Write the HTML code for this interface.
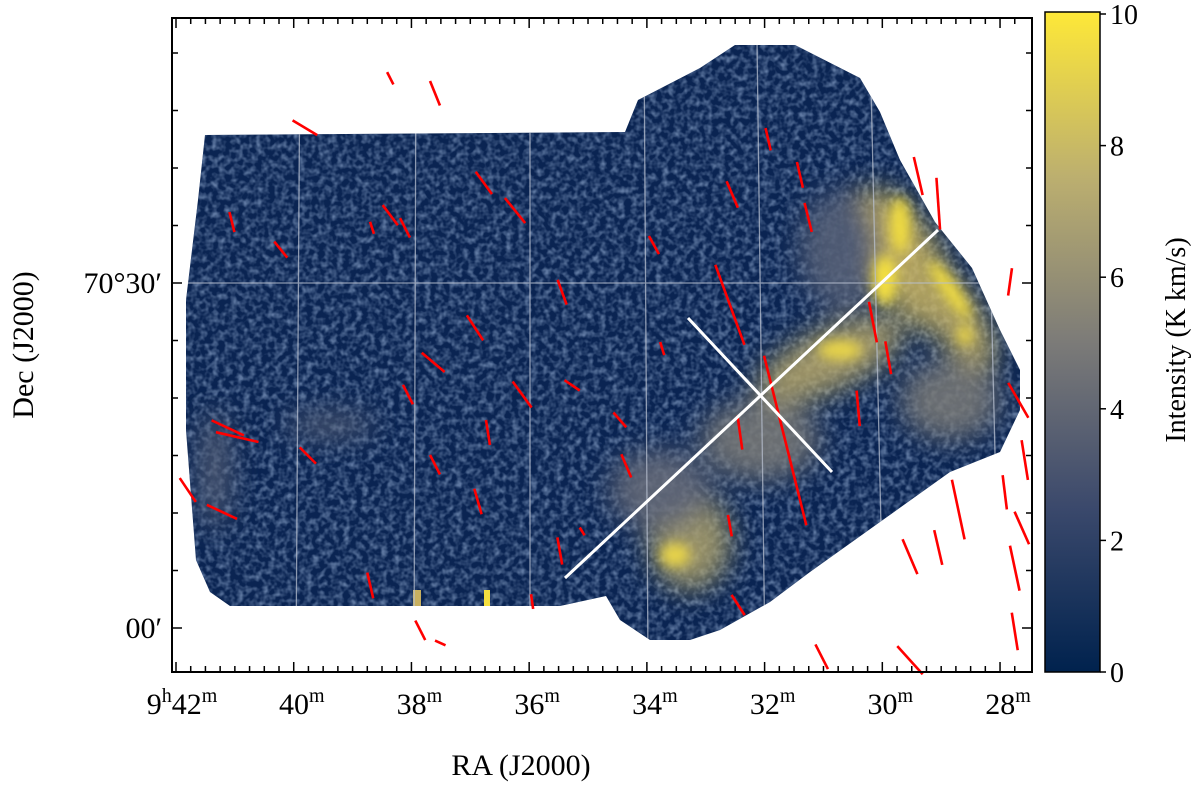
<!DOCTYPE html>
<html><head><meta charset="utf-8">
<style>
html,body{margin:0;padding:0;background:#fff;}
svg text{font-family:"Liberation Serif",serif;fill:#000;}
</style></head>
<body>
<svg id="chart" width="1200" height="789" viewBox="0 0 1200 789" xmlns="http://www.w3.org/2000/svg">
<defs>
<clipPath id="mapclip"><polygon id="mapPoly" points="205,135 625,132 638,100 700,68 735,45 795,45 860,78 880,112 900,160 935,222 972,268 1000,330 1020,370 1020,410 1000,452 950,472 880,522 810,572 770,602 720,630 690,640 650,640 620,620 606,596 560,606 230,606 210,592 196,560 186,430 186,300 198,200"/></clipPath>
<filter id="noise" x="0" y="0" width="100%" height="100%">
<feTurbulence type="fractalNoise" baseFrequency="0.16" numOctaves="2" seed="4"/>
<feColorMatrix type="matrix" values="0 0 0 0 0.2  0 0 0 0 0.3  0 0 0 0 0.5  0 0 0 -2.2 1.35"/>
</filter>
<filter id="blur"><feGaussianBlur stdDeviation="14"/></filter>
<filter id="blur2"><feGaussianBlur stdDeviation="6"/></filter>
<linearGradient id="cmap" x1="0" y1="1" x2="0" y2="0">
<stop offset="0" stop-color="#00224e"/><stop offset="0.25" stop-color="#3b496c"/>
<stop offset="0.5" stop-color="#7c7b78"/><stop offset="0.75" stop-color="#bcaf6f"/>
<stop offset="1" stop-color="#fee838"/></linearGradient>
</defs>
<g id="map" clip-path="url(#mapclip)">
<rect x="170" y="30" width="870" height="630" fill="#0a2452"/>
<rect x="170" y="30" width="870" height="630" fill="#3b5a8c" filter="url(#noise)" opacity="0.75"/>
<g filter="url(#blur)" opacity="0.85">
<ellipse cx="905" cy="260" rx="35" ry="80" fill="#d8c060" transform="rotate(-30 905 260)"/>
<ellipse cx="950" cy="310" rx="25" ry="70" fill="#c8b465" transform="rotate(-35 950 310)"/>
<ellipse cx="830" cy="360" rx="80" ry="30" fill="#b8a86a" transform="rotate(-25 830 360)"/>
<ellipse cx="950" cy="400" rx="50" ry="40" fill="#7c7b78"/>
<ellipse cx="760" cy="440" rx="60" ry="40" fill="#7c7b78"/>
<ellipse cx="690" cy="540" rx="40" ry="50" fill="#b0a46c"/>
<ellipse cx="660" cy="490" rx="50" ry="40" fill="#6a6e7a"/>
<ellipse cx="840" cy="250" rx="40" ry="60" fill="#5a6478"/>
<ellipse cx="330" cy="425" rx="45" ry="12" fill="#5a6478"/>
<ellipse cx="215" cy="470" rx="15" ry="60" fill="#5a6478"/>
</g>
<g filter="url(#blur2)">
<ellipse cx="885" cy="280" rx="12" ry="25" fill="#f5e040"/>
<ellipse cx="900" cy="225" rx="10" ry="28" fill="#f0dc40"/>
<ellipse cx="950" cy="290" rx="8" ry="35" fill="#f0dc40" transform="rotate(-35 950 290)"/>
<ellipse cx="840" cy="350" rx="22" ry="10" fill="#e8d448"/>
<ellipse cx="675" cy="555" rx="15" ry="12" fill="#e8d448"/>
<ellipse cx="965" cy="335" rx="8" ry="10" fill="#e8d448"/>
</g>
<rect x="413" y="590" width="8" height="16" fill="#c8b060"/>
<rect x="484" y="590" width="6" height="16" fill="#f5e040"/>
<g id="gridlines" stroke="#b8c0d0" stroke-width="1.3" opacity="0.75" fill="none">
<line x1="176" y1="283" x2="1030" y2="283"/>
<line x1="300" y1="40" x2="296" y2="660"/>
<line x1="416" y1="40" x2="414" y2="660"/>
<line x1="530" y1="40" x2="530" y2="660"/>
<line x1="644" y1="40" x2="648" y2="660"/>
<line x1="757" y1="40" x2="765" y2="660"/>
<line x1="870" y1="40" x2="884" y2="660"/>
<line x1="985" y1="40" x2="1000" y2="660"/>
</g>
</g>
<g id="vectors"></g>
<g id="cross" stroke="#fff" stroke-width="3">
<line x1="565" y1="578" x2="938" y2="230"/>
<line x1="688" y1="318" x2="832" y2="472"/>
</g>
<rect x="172" y="18" width="860" height="654" fill="none" stroke="#000" stroke-width="2"/>
<g id="ticks" stroke="#000" stroke-width="1.5"></g>
<g id="labels"></g>
<text x="521" y="775" font-size="30" text-anchor="middle">RA (J2000)</text>
<text transform="translate(33,345) rotate(-90)" font-size="30" text-anchor="middle">Dec (J2000)</text>
<rect x="1045" y="12" width="55" height="660" fill="url(#cmap)" stroke="#000" stroke-width="1.5"/>
<g id="cbticks"></g>
<text transform="translate(1185,340) rotate(-90)" font-size="28" text-anchor="middle">Intensity (K km/s)</text>
</svg>
<script>
const vecRA  = [38.36,37.60,39.81,41.05,40.22,38.67,38.36,38.11,36.77,36.24,35.44,33.88,32.55,31.94,31.40,31.26,32.59,31.65,29.39,29.05,30.16,29.90,30.41,27.83,27.69,27.58,27.92,28.71,29.05,29.53,27.63,27.75,27.75,29.53,31.03,32.45,32.59,32.42,33.74,35.48,37.85,37.51,38.70,36.87,36.70,37.60,38.06,37.63,36.92,36.12,35.27,34.46,34.35,39.76,41.12,40.96,41.80,41.22,35.10,35.95];
const vecDec = [47.8,46.5,43.5,35.3,32.9,34.8,35.9,34.8,38.7,36.3,29.2,33.3,37.7,42.5,39.4,35.7,28.1,16.3,39.3,36.9,26.6,23.5,19.1,30.1,19.8,14.6,11.8,10.3,7.0,6.2,8.7,5.2,-0.3,-2.8,-2.5,2.0,8.9,17.0,24.3,6.7,-0.2,-1.3,3.7,11.0,17.0,14.2,20.3,23.1,26.1,20.3,21.1,18.1,14.1,15.0,17.4,16.6,12.0,10.1,8.4,2.3];
const vecPA  = [-27,-22,-59,-14,-39,-18,-37,-27,-36,-39,-20,-29,-23,-13,-13,-14,-20,-14,-13,-4,-11,-10,-5,8,-30,-9,-7,-12,-13,-23,-24,-12,-9,-42,-27,-33,-10,-8,-17,-10,-27,-66,-13,-16,-9,-27,-27,-50,-33,-36,-56,-41,-23,-45,-65,-77,-34,-65,-32,-8];
const vecLen = [1.2,2.3,2.5,1.8,1.8,1.1,2.2,1.9,2.4,2.8,2.3,1.8,2.5,2.0,2.3,2.6,7.4,15.2,3.4,4.5,3.6,2.9,3.1,2.4,3.5,3.5,3.0,5.3,3.1,3.3,3.1,4.0,3.3,3.3,2.4,2.1,1.9,3.0,1.2,2.4,1.9,1.0,2.3,2.3,2.2,1.9,1.9,2.6,2.6,2.8,1.6,1.7,2.2,2.0,3.1,3.8,2.5,2.9,0.8,1.3];
const raTicks = [42,40,38,36,34,32,30,28];
const raLabels = ["9h42m","40m","38m","36m","34m","32m","30m","28m"];
const decTicks = [30,0];
const decLabels = ["70°30′","00′"];
const cbTicks = [0,2,4,6,8,10];

const NS="http://www.w3.org/2000/svg";
const xS = ra => 176 + (42 - ra) * 58.86;
const yS = dec => 628 - dec * 11.5;
const pxPerArcmin = 11.5;
const cbY = v => 672 - v * 65.8;
function mk(tag, attrs, parent){const e=document.createElementNS(NS,tag);for(const k in attrs)e.setAttribute(k,attrs[k]);parent.appendChild(e);return e;}

const vg=document.getElementById('vectors');
for(let i=0;i<vecRA.length;i++){
  const cx=xS(vecRA[i]), cy=yS(vecDec[i]), a=vecPA[i]*Math.PI/180, h=vecLen[i]*pxPerArcmin/2;
  const l=mk('line',{x1:cx-Math.sin(a)*h,y1:cy+Math.cos(a)*h,x2:cx+Math.sin(a)*h,y2:cy-Math.cos(a)*h,stroke:'#ff0000','stroke-width':2.6},vg);
  
  
}
const tg=document.getElementById('ticks'), lg=document.getElementById('labels');
for(let m=27.75;m<=42.01;m+=0.25){
  const x=xS(m); if(x<172||x>1032)continue;
  const major=Math.abs(m-Math.round(m/2)*2)<0.01;
  const len=major?10:6;
  mk('line',{x1:x,y1:18,x2:x,y2:18+len},tg);
  mk('line',{x1:x,y1:672,x2:x,y2:672-len},tg);
}
for(let d=-5;d<=55;d+=5){
  const y=yS(d); if(y<18||y>672)continue;
  const major=d%30===0; const len=major?10:6;
  mk('line',{x1:172,y1:y,x2:172+len,y2:y},tg);
  mk('line',{x1:1032,y1:y,x2:1032-len,y2:y},tg);
}
raTicks.forEach((r,i)=>{
  const t=mk('text',{x:xS(r)+(i===0?6:8),y:714,'font-size':30,'text-anchor':'middle'},lg);
  
  
  const s=raLabels[i];
  if(i===0){t.innerHTML='9<tspan font-size="20" dy="-12">h</tspan><tspan dy="12">42</tspan><tspan font-size="20" dy="-12">m</tspan>';}
  else{t.innerHTML=s.replace('m','')+'<tspan font-size="20" dy="-12">m</tspan>';}
});
decTicks.forEach((d,i)=>{
  const t=mk('text',{x:162,y:yS(d)+10,'font-size':30,'text-anchor':'end'},lg);
  
  
  t.textContent=decLabels[i];
});
const cg=document.getElementById('cbticks');
cbTicks.forEach(v=>{
  const y=cbY(v);
  mk('line',{x1:1100,y1:y,x2:1106,y2:y,stroke:'#000','stroke-width':1.5},cg);
  const t=mk('text',{x:1110,y:y+10,'font-size':28},cg);
  
  
  t.textContent=v;
});
</script>
</body></html>
